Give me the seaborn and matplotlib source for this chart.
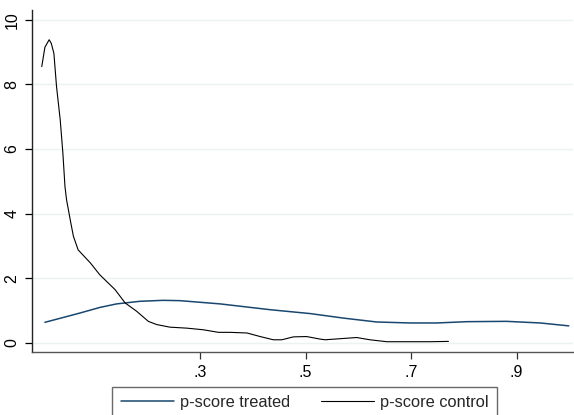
import matplotlib
matplotlib.use("Agg")
import matplotlib.pyplot as plt
import seaborn as sns
import pandas as pd
from matplotlib.lines import Line2D

# Treated propensity-score density
treated_x = [0.006, 0.073, 0.110, 0.142, 0.186, 0.230, 0.262, 0.338, 0.433, 0.509,
             0.572, 0.635, 0.698, 0.749, 0.806, 0.881, 0.945, 0.999]
treated_y = [0.64, 0.93, 1.10, 1.21, 1.29, 1.32, 1.31, 1.21, 1.03, 0.91,
             0.77, 0.65, 0.62, 0.62, 0.66, 0.67, 0.62, 0.53]

# Control propensity-score density
control_x = [0.000, 0.006, 0.014, 0.018, 0.023, 0.028, 0.035, 0.040, 0.044,
             0.047, 0.055, 0.060, 0.069, 0.092, 0.110, 0.139, 0.158, 0.180, 0.202,
             0.218, 0.243, 0.275, 0.306, 0.335, 0.357, 0.389, 0.414, 0.439, 0.455,
             0.477, 0.502, 0.528, 0.537, 0.597, 0.622, 0.654, 0.698, 0.736, 0.771]
control_y = [8.55, 9.15, 9.38, 9.27, 8.96, 7.93, 6.90, 5.88, 4.84,
             4.43, 3.72, 3.30, 2.88, 2.48, 2.11, 1.65, 1.24, 0.98, 0.67,
             0.57, 0.49, 0.46, 0.41, 0.33, 0.33, 0.31, 0.20, 0.10, 0.10,
             0.19, 0.20, 0.12, 0.10, 0.17, 0.10, 0.04, 0.04, 0.04, 0.05]

x_ticks = [0.3, 0.5, 0.7, 0.9]
x_tick_labels = [".3", ".5", ".7", ".9"]
y_ticks = [0, 2, 4, 6, 8, 10]
series_names = ["p-score treated", "p-score control"]

sns.set_style("white")
plt.rcParams["font.family"] = ["Liberation Sans", "DejaVu Sans"]

fig = plt.figure(figsize=(5.74, 4.15), dpi=100)
ax = fig.add_axes([32 / 574, 63 / 415, 541 / 574, 342 / 415])

blue = "#1a476f"
df_t = pd.DataFrame({"x": treated_x, "y": treated_y})
df_c = pd.DataFrame({"x": control_x, "y": control_y})
sns.lineplot(data=df_t, x="x", y="y", ax=ax, color=blue, linewidth=1.1,
             sort=False, estimator=None)
sns.lineplot(data=df_c, x="x", y="y", ax=ax, color="black", linewidth=0.8,
             sort=False, estimator=None)

ax.set_xlim(-0.0185, 1.007)
ax.set_ylim(-0.278, 10.30)
ax.set_xticks(x_ticks)
ax.set_xticklabels(x_tick_labels)
ax.set_yticks(y_ticks)
ax.set_yticklabels([str(v) for v in y_ticks], rotation=90, va="center")
ax.set_xlabel("")
ax.set_ylabel("")

ax.grid(axis="y", color="#eaf2f3", linewidth=1.0)
ax.grid(axis="x", visible=False)
for s in ["top", "right"]:
    ax.spines[s].set_visible(False)
ax.spines["left"].set_color("#222222")
ax.spines["bottom"].set_color("#555555")
ax.spines["left"].set_linewidth(1.0)
ax.spines["bottom"].set_linewidth(1.0)
ax.tick_params(axis="both", which="major", direction="out", length=5, width=0.9,
               labelsize=11.5, colors="black", pad=4, left=True, bottom=True)
ax.tick_params(axis="x", color="#333333")

handles = [Line2D([], [], color=blue, linewidth=1.1),
           Line2D([], [], color="black", linewidth=0.8)]
leg = fig.legend(handles, series_names, ncol=2, loc="upper center",
                 bbox_to_anchor=(0.5305, 1 - 387 / 415), frameon=True,
                 fontsize=11.8, handlelength=3.25, handletextpad=0.35,
                 columnspacing=1.9, borderpad=0.5, borderaxespad=0.0,
                 fancybox=False)
leg.get_frame().set_edgecolor("#444444")
leg.get_frame().set_linewidth(1.0)

fig.savefig("out.png", dpi=100)
